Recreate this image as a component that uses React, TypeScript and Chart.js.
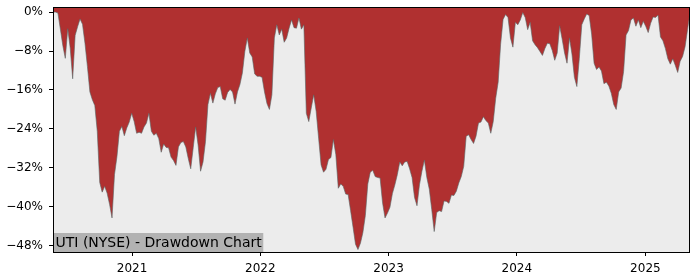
import React, { useEffect, useRef } from 'react';
import { Chart, registerables } from 'chart.js';

Chart.register(...registerables);

// Weekly drawdown series (percent below running peak), starting at START_DATE
const START_DATE = '2020-05-21';
const STEP_DAYS = 7;

const dd2020 = [
  0, 0, -0.2, -3.5, -6.9, -9.5, -3.4, -7.4, -13.7, -4.8, -3.0, -1.4, -2.5, -6.4, -11.2, -16.4,
  -18.0, -19.2, -24.5, -35.0, -37.0, -35.8, -37.2, -39.5, -42.3, -33.4, -29.7, -24.5, -23.5, -25.4,
  -23.8, -22.6, -20.8,
];
const dd2021 = [
  -22.5, -24.9, -24.7, -24.9, -23.6, -22.8, -20.8, -24.5, -25.3, -24.9, -26.0, -28.8, -27.1, -27.8,
  -27.9, -29.8, -30.5, -31.5, -27.7, -26.8, -26.6, -27.7, -30.1, -32.2, -27.9, -23.6, -27.3, -32.7,
  -30.8, -26.6, -19.0, -16.7, -18.7, -16.8, -15.5, -15.3, -17.8, -18.1, -16.5, -15.9, -16.4, -18.9,
  -16.4, -14.9, -12.5, -8.1, -5.3, -8.4, -9.2, -12.7, -13.2, -13.2,
];
const dd2022 = [
  -13.4, -16.4, -18.8, -20.0, -17.0, -5.3, -2.6, -4.7, -3.5, -6.2, -5.3, -3.3, -1.6, -3.2, -3.3,
  -1.2, -3.5, -2.6, -20.8, -22.5, -19.7, -17.0, -20.4, -25.9, -31.4, -32.9, -32.3, -30.3, -29.9,
  -26.2, -29.3, -36.2, -35.3, -35.8, -37.4, -37.5, -40.8, -44.2, -47.7, -48.8, -47.5, -45.3, -41.8,
  -35.3, -32.9, -32.5, -33.8, -34.0, -34.1, -39.2, -42.3, -41.3,
];
const dd2023 = [
  -40.1, -37.3, -35.5, -33.4, -30.8, -31.6, -30.8, -30.7, -32.2, -34.0, -38.1, -39.8, -35.5, -32.7,
  -30.4, -34.0, -36.4, -40.6, -45.1, -41.2, -40.8, -41.0, -38.8, -38.9, -39.3, -37.6, -37.7, -36.8,
  -35.1, -33.8, -31.7, -25.5, -25.2, -26.2, -27.0, -25.5, -22.8, -22.6, -21.5, -22.3, -22.8, -24.9,
  -22.5, -17.7, -14.4, -6.6, -1.5, -0.5, -1.1, -5.3, -7.2, -2.1,
];
const dd2024 = [
  -2.6, -1.6, -0.1, -1.1, -3.6, -2.1, -5.9, -6.7, -7.3, -8.1, -8.9, -7.5, -6.4, -6.5, -7.9, -9.9,
  -8.4, -2.8, -5.5, -8.4, -10.5, -5.3, -8.6, -13.4, -15.3, -9.5, -2.6, -1.4, -0.4, -0.7, -4.5,
  -10.5, -11.8, -11.3, -12.1, -14.7, -14.4, -15.2, -16.7, -19.0, -20.0, -16.4, -15.6, -12.2, -4.7,
  -3.8, -1.6, -1.2, -2.9, -1.6, -3.2, -1.9,
];
const dd2025 = [
  -2.9, -4.2, -2.3, -1.0, -1.1, -0.6, -5.1, -5.9, -7.5, -9.6, -10.7, -9.6, -10.9, -12.4, -10.1,
  -9.1, -7.1, -3.6, -0.2,
];

const yearTicks = [2021, 2022, 2023, 2024, 2025];
const yTicks = [0, -8, -16, -24, -32, -40, -48];
const Y_MIN = -49.3;
const Y_MAX = 1.05;
const TITLE = 'UTI (NYSE) - Drawdown Chart';

const FONT = '"DejaVu Sans", sans-serif';

export default function App() {
  const ref = useRef<HTMLCanvasElement>(null);

  useEffect(() => {
    document.body.style.margin = '0';
    const canvas = ref.current;
    if (!canvas) return;

    const values = [...dd2020, ...dd2021, ...dd2022, ...dd2023, ...dd2024, ...dd2025];
    const DAY = 86400000;
    const t0 = Date.parse(START_DATE + 'T00:00:00Z');
    const data = values.map((v, i) => ({ x: t0 + i * STEP_DAYS * DAY, y: v }));
    const xMin = data[0].x;
    const xMax = data[data.length - 1].x;

    const decor = {
      id: 'decor',
      beforeDraw(chart: any) {
        const { ctx, chartArea: a } = chart;
        ctx.save();
        ctx.fillStyle = '#ececec';
        ctx.fillRect(a.left, a.top, a.right - a.left, a.bottom - a.top);
        ctx.restore();
      },
      afterDraw(chart: any) {
        const { ctx, chartArea: a } = chart;
        ctx.save();
        // title box
        ctx.font = '14px ' + FONT;
        const w = ctx.measureText(TITLE).width;
        ctx.fillStyle = 'rgb(178,178,178)';
        ctx.fillRect(a.left, a.bottom - 19, w + 4, 19);
        ctx.fillStyle = '#000';
        ctx.textBaseline = 'alphabetic';
        ctx.textAlign = 'left';
        ctx.fillText(TITLE, a.left + 2.5, a.bottom - 5);
        // frame
        ctx.strokeStyle = '#000';
        ctx.lineWidth = 1;
        ctx.strokeRect(
          Math.round(a.left) + 0.5,
          Math.round(a.top) + 0.5,
          Math.round(a.right) - Math.round(a.left) - 1,
          Math.round(a.bottom) - Math.round(a.top)
        );
        ctx.restore();
      },
    };

    const chart = new Chart(canvas, {
      type: 'line',
      data: {
        datasets: [
          {
            data,
            borderColor: 'rgba(90,100,100,0.6)',
            borderWidth: 1,
            backgroundColor: 'rgb(176,48,48)',
            fill: 'end',
            pointRadius: 0,
            tension: 0,
          },
        ],
      },
      options: {
        animation: false,
        responsive: false,
        devicePixelRatio: 1,
        layout: { padding: { top: 7, right: 10, left: 0, bottom: 0 } },
        plugins: { legend: { display: false }, tooltip: { enabled: false }, title: { display: false } },
        scales: {
          x: {
            type: 'linear',
            min: xMin,
            max: xMax,
            afterBuildTicks: (s: any) => {
              s.ticks = yearTicks.map((y) => ({ value: Date.UTC(y, 0, 1) }));
            },
            afterFit: (s: any) => {
              s.height = 28;
              s.paddingLeft = 0;
              s.paddingRight = 0;
            },
            ticks: {
              callback: (v: any) => String(new Date(Number(v)).getUTCFullYear()),
              font: { family: FONT, size: 12 },
              color: '#000',
              padding: 6,
              maxRotation: 0,
              autoSkip: false,
            },
            grid: { display: true, drawOnChartArea: false, drawTicks: true, tickLength: 4, color: '#000' },
            border: { display: false },
          },
          y: {
            type: 'linear',
            min: Y_MIN,
            max: Y_MAX,
            afterBuildTicks: (s: any) => {
              s.ticks = yTicks.map((v) => ({ value: v }));
            },
            afterFit: (s: any) => {
              s.width = 53;
              s.paddingTop = 0;
              s.paddingBottom = 0;
            },
            ticks: {
              callback: (v: any) => (Number(v) === 0 ? '0%' : '\u2212' + Math.abs(Number(v)) + '%'),
              font: { family: FONT, size: 12 },
              color: '#000',
              padding: 6,
              autoSkip: false,
            },
            grid: { display: true, drawOnChartArea: false, drawTicks: true, tickLength: 4, color: '#000' },
            border: { display: false },
          },
        },
      },
      plugins: [decor],
    });

    return () => chart.destroy();
  }, []);

  return (
    <div style={{ width: 700, height: 280 }}>
      <canvas ref={ref} width={700} height={280} style={{ display: 'block' }} />
    </div>
  );
}
